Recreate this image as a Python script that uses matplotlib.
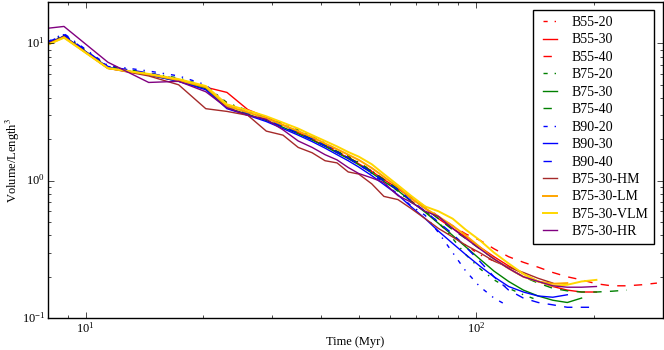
import numpy as np
import matplotlib
matplotlib.use("Agg")
import matplotlib.pyplot as plt

plt.style.use('classic')
plt.rcParams['font.family'] = ['Liberation Serif', 'DejaVu Serif']
plt.rcParams['mathtext.fontset'] = 'stix'

# output times (Myr), shared by all runs; each run stops at its own length
t = [8.0, 8.8, 11.4, 14.5, 17.3, 20.3, 23.0, 26.0, 29.0, 32.0, 35.0, 38.0, 41.0,
     44.0, 47.0, 50.0, 54.0, 58.0, 63.0, 68.0, 74.0, 80.0, 87.0, 94.0, 102.0,
     111.0, 121.0, 132.0, 144.0, 157.0, 171.0, 186.0, 203.0, 222.0, 243.0,
     265.0, 290.0]

b55_20 = [10.1, 11.5, 6.8, 6.0, 5.5, 4.9, 3.7, 3.2, 2.85, 2.55, 2.3, 2.05, 1.85,
          1.65, 1.5, 1.36, 1.18, 1.02, 0.86, 0.72, 0.6, 0.49, 0.4, 0.34, 0.29, 0.26]
b55_30 = [9.9, 11.2, 6.6, 5.9, 5.4, 4.8, 4.4, 3.3, 2.9, 2.55, 2.25, 2.0, 1.8,
          1.62, 1.47, 1.33, 1.17, 1.02, 0.88, 0.75, 0.63, 0.53, 0.45, 0.39, 0.33,
          0.28, 0.24, 0.21, 0.185, 0.17, 0.16, 0.155, 0.155]
b55_40 = [10.0, 11.4, 6.7, 6.0, 5.4, 4.7, 3.6, 3.15, 2.8, 2.5, 2.25, 2.02, 1.82,
          1.64, 1.48, 1.35, 1.18, 1.03, 0.89, 0.76, 0.65, 0.55, 0.47, 0.41, 0.37,
          0.32, 0.28, 0.255, 0.235, 0.215, 0.2, 0.19, 0.178, 0.172, 0.172, 0.175, 0.18]
b75_20 = [10.2, 11.6, 6.8, 6.1, 5.6, 4.9, 3.7, 3.25, 2.9, 2.6, 2.35, 2.1, 1.88,
          1.68, 1.52, 1.36, 1.18, 1.0, 0.84, 0.7, 0.6, 0.5, 0.38, 0.29, 0.23,
          0.19, 0.165, 0.148, 0.135]
b75_30 = [10.0, 11.3, 6.7, 5.9, 5.3, 4.7, 3.4, 3.05, 2.75, 2.45, 2.2, 1.98, 1.78,
          1.6, 1.45, 1.31, 1.14, 0.99, 0.85, 0.71, 0.59, 0.49, 0.4, 0.33, 0.27,
          0.22, 0.185, 0.16, 0.145, 0.135, 0.13, 0.14]
b75_40 = [10.1, 11.4, 6.7, 6.0, 5.4, 4.8, 3.5, 3.1, 2.8, 2.5, 2.25, 2.02, 1.82,
          1.64, 1.48, 1.34, 1.17, 1.02, 0.88, 0.75, 0.63, 0.53, 0.44, 0.38, 0.32,
          0.27, 0.23, 0.2, 0.18, 0.165, 0.158, 0.155, 0.155, 0.157, 0.16]
b90_20 = [10.3, 11.8, 6.9, 6.3, 5.8, 5.0, 3.6, 3.2, 2.85, 2.55, 2.3, 2.05, 1.84,
          1.64, 1.47, 1.32, 1.13, 0.96, 0.8, 0.66, 0.56, 0.42, 0.3, 0.22, 0.17,
          0.14, 0.122]
b90_30 = [10.0, 11.3, 6.7, 5.9, 5.3, 4.6, 3.35, 3.0, 2.7, 2.4, 2.15, 1.93, 1.73,
          1.55, 1.4, 1.26, 1.09, 0.94, 0.79, 0.65, 0.53, 0.43, 0.35, 0.29, 0.24,
          0.2, 0.17, 0.155, 0.145, 0.142, 0.148]
b90_40 = [10.2, 11.6, 6.8, 6.1, 5.5, 4.8, 3.5, 3.1, 2.78, 2.48, 2.22, 2.0, 1.8,
          1.61, 1.46, 1.32, 1.15, 1.0, 0.86, 0.72, 0.6, 0.5, 0.41, 0.33, 0.26,
          0.2, 0.16, 0.14, 0.13, 0.125, 0.12, 0.12, 0.12]
b75_30_hm = [10.0, 11.2, 6.6, 5.8, 5.0, 3.35, 3.2, 3.0, 2.3, 2.15, 1.75, 1.6, 1.4,
             1.35, 1.16, 1.12, 0.95, 0.77, 0.73, 0.63, 0.53, 0.45, 0.39, 0.34, 0.3,
             0.26, 0.235, 0.215, 0.195, 0.18]
b75_30_lm = [9.8, 11.1, 6.6, 5.95, 5.4, 4.8, 3.5, 3.15, 2.85, 2.55, 2.3, 2.08, 1.87,
             1.7, 1.55, 1.42, 1.24, 1.07, 0.9, 0.75, 0.63, 0.55, 0.47, 0.4, 0.33,
             0.27, 0.23, 0.2, 0.185, 0.178, 0.18]
b75_30_vlm = [9.8, 11.0, 6.6, 6.0, 5.5, 4.9, 3.6, 3.25, 2.95, 2.65, 2.4, 2.15, 1.95,
              1.78, 1.62, 1.5, 1.32, 1.12, 0.93, 0.78, 0.65, 0.6, 0.53, 0.44, 0.37,
              0.3, 0.25, 0.21, 0.185, 0.172, 0.175, 0.185, 0.19]
b75_30_hr = [12.9, 13.3, 7.3, 5.2, 5.3, 4.45, 3.4, 3.0, 2.8, 2.35, 1.95, 1.75, 1.55,
             1.42, 1.25, 1.13, 1.05, 0.97, 0.78, 0.7, 0.6, 0.55, 0.45, 0.38, 0.32,
             0.27, 0.23, 0.2, 0.185, 0.172, 0.168, 0.168, 0.17]

runs = [
    ('B55-20', b55_20, 'r', '-.'),
    ('B55-30', b55_30, 'r', '-'),
    ('B55-40', b55_40, 'r', '--'),
    ('B75-20', b75_20, 'g', '-.'),
    ('B75-30', b75_30, 'g', '-'),
    ('B75-40', b75_40, 'g', '--'),
    ('B90-20', b90_20, 'b', '-.'),
    ('B90-30', b90_30, 'b', '-'),
    ('B90-40', b90_40, 'b', '--'),
    ('B75-30-HM', b75_30_hm, '#a52a2a', '-'),
    ('B75-30-LM', b75_30_lm, 'orange', '-'),
    ('B75-30-VLM', b75_30_vlm, '#ffd700', '-'),
    ('B75-30-HR', b75_30_hr, 'purple', '-'),
]

fig = plt.figure(figsize=(6.64, 3.5), dpi=100, facecolor='white')
ax = fig.add_axes([0.072, 0.091, 0.926, 0.903])

for name, vals, col, ls in runs:
    lw = 1.4 if name in ('B75-30-LM', 'B75-30-VLM') else 1.0
    ax.plot(t[:len(vals)], vals, color=col, ls=ls, lw=lw, label=name)

ax.set_xscale('log')
ax.set_yscale('log')
ax.set_xlim(8, 300)
ax.set_ylim(0.1, 20)
ax.set_xlabel('Time (Myr)', fontsize=9, labelpad=0)
ax.set_ylabel('Volume/Length$^3$', fontsize=9, labelpad=0)
ax.tick_params(labelsize=9, pad=2)

ax.legend(loc='upper right', fontsize=10, handlelength=1.6, labelspacing=0.32,
          frameon=True, fancybox=False, borderaxespad=0.6)

fig.savefig('out.png', dpi=100, facecolor='white')
